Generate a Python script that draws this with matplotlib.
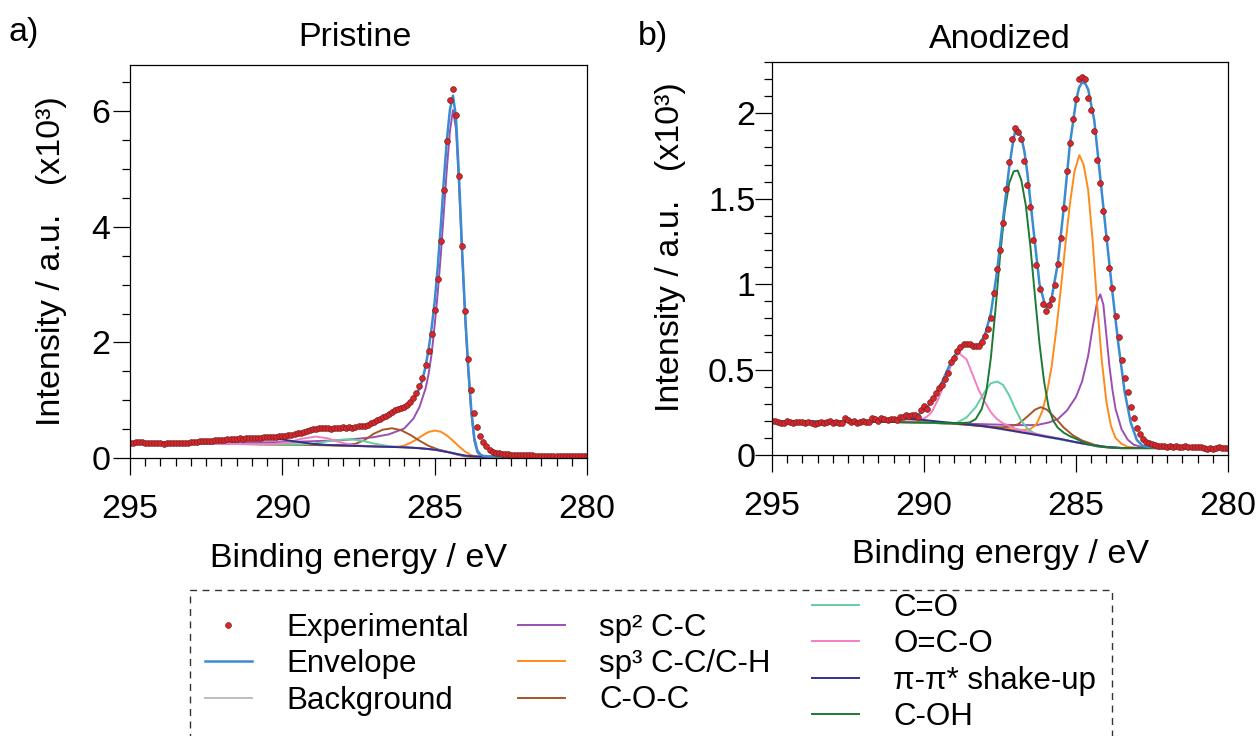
import matplotlib
matplotlib.use("Agg")
import numpy as np
import matplotlib.pyplot as plt
from matplotlib.ticker import MultipleLocator, FixedLocator
from matplotlib.patches import Rectangle

plt.rcParams['font.family'] = ['Liberation Sans', 'DejaVu Sans']

# energy grid of the experimental points (0.1 eV step, 295 -> 280 eV)
e_grid = np.linspace(295.0, 280.0, 151)

# ---------------- Pristine ----------------
p_exp = [0.265, 0.262, 0.270, 0.278, 0.272, 0.262, 0.258, 0.255, 0.252, 0.256,
         0.252, 0.250, 0.255, 0.266, 0.262, 0.258, 0.256, 0.257, 0.262, 0.268,
         0.272, 0.275, 0.284, 0.291, 0.287, 0.298, 0.302, 0.296, 0.306, 0.312,
         0.308, 0.318, 0.322, 0.330, 0.328, 0.334, 0.338, 0.336, 0.340, 0.352,
         0.347, 0.350, 0.348, 0.352, 0.357, 0.360, 0.362, 0.368, 0.372, 0.378,
         0.383, 0.388, 0.395, 0.402, 0.412, 0.425, 0.440, 0.455, 0.468, 0.487,
         0.505, 0.498, 0.512, 0.518, 0.512, 0.515, 0.508, 0.520, 0.518, 0.522,
         0.528, 0.524, 0.532, 0.520, 0.542, 0.548, 0.550, 0.562, 0.578, 0.602,
         0.625, 0.650, 0.678, 0.705, 0.735, 0.765, 0.795, 0.822, 0.840, 0.865,
         0.882, 0.925, 0.965, 1.040, 1.130, 1.240, 1.380, 1.610, 1.850, 2.150,
         2.560, 3.090, 3.760, 4.640, 5.480, 6.200, 6.390, 5.930, 4.880, 3.660,
         2.540, 1.720, 1.170, 0.770, 0.540, 0.380, 0.280, 0.200, 0.140, 0.100,
         0.090, 0.080, 0.072, 0.066, 0.062, 0.058, 0.055, 0.052, 0.050, 0.048,
         0.047, 0.045, 0.044, 0.043, 0.042, 0.041, 0.040, 0.039, 0.038, 0.037,
         0.036, 0.035, 0.034, 0.034, 0.033, 0.033, 0.032, 0.032, 0.031, 0.031,
         0.030]

p_bg_e = [295, 293, 291, 289, 288, 287, 286, 285.5, 285, 284.7, 284.5, 284.3, 284.1, 283.9, 283.5, 280]
p_bg_y = [0.26, 0.25, 0.24, 0.225, 0.215, 0.20, 0.185, 0.17, 0.145, 0.12, 0.095, 0.065, 0.04, 0.028, 0.022, 0.02]

p_env_e = [295, 294, 293, 292, 291, 290, 289.5, 289, 288.5, 288, 287.5, 287, 286.75, 286.5, 286.25,
           286, 285.75, 285.5, 285.4, 285.3, 285.2, 285.1, 285.0, 284.9, 284.8, 284.7, 284.6, 284.5,
           284.4, 284.3, 284.2, 284.1, 284.0, 283.9, 283.8, 283.7, 283.6, 283.5, 283.4, 283.2, 283, 280]
p_env_y = [0.26, 0.26, 0.27, 0.30, 0.335, 0.375, 0.41, 0.47, 0.50, 0.52, 0.545, 0.60, 0.67, 0.75, 0.82,
           0.89, 0.97, 1.2, 1.36, 1.58, 1.88, 2.25, 2.7, 3.3, 4.0, 4.8, 5.5, 6.02,
           6.27, 5.9, 4.85, 3.62, 2.5, 1.6, 0.85, 0.35, 0.13, 0.06, 0.035, 0.025, 0.02, 0.02]

p_sp2_e = [295, 293, 291, 290, 289, 288, 287, 286.5, 286, 285.7, 285.5, 285.3, 285.2, 285.1, 285.0, 284.9,
           284.8, 284.7, 284.6, 284.5, 284.4, 284.3, 284.2, 284.1, 284.0, 283.9, 283.8, 283.7, 283.6,
           283.5, 283.3, 280]
p_sp2_y = [0.26, 0.262, 0.268, 0.275, 0.29, 0.31, 0.36, 0.41, 0.51, 0.68, 0.88, 1.2, 1.45, 1.8, 2.3, 2.85,
           3.5, 4.25, 5.0, 5.65, 6.02, 5.7, 4.7, 3.5, 2.4, 1.5, 0.78, 0.3, 0.1,
           0.04, 0.02, 0.02]

p_sp3_e = [295, 293, 291, 289, 288, 287, 286.5, 286.2, 286.0, 285.8, 285.6, 285.4, 285.2, 285.0, 284.8,
           284.6, 284.4, 284.2, 284.0, 283.8, 283.6, 283.4, 280]
p_sp3_y = [0.26, 0.25, 0.24, 0.225, 0.215, 0.2, 0.19, 0.195, 0.215, 0.26, 0.32, 0.39, 0.45, 0.475, 0.455,
           0.39, 0.30, 0.20, 0.11, 0.05, 0.025, 0.02, 0.02]

p_coc_e = [295, 293, 291, 289, 288, 287.6, 287.3, 287.0, 286.7, 286.4, 286.1, 285.8, 285.5, 285.2, 284.9,
           284.6, 284.3, 284.0, 283.7, 280]
p_coc_y = [0.26, 0.25, 0.24, 0.225, 0.22, 0.245, 0.31, 0.42, 0.49, 0.515, 0.48, 0.40, 0.30, 0.21, 0.15,
           0.11, 0.065, 0.03, 0.02, 0.02]

p_co_e = [295, 293, 291, 289.5, 289, 288.5, 288, 287.7, 287.3, 287, 286.5, 286, 285.5, 285, 284.5, 284, 283.5, 280]
p_co_y = [0.26, 0.25, 0.24, 0.232, 0.245, 0.29, 0.32, 0.32, 0.29, 0.25, 0.205, 0.185, 0.17, 0.145, 0.095, 0.04, 0.022, 0.02]

p_oco_e = [295, 293, 291, 290.3, 289.8, 289.4, 288.9, 288.5, 288.1, 287.7, 287.2, 286.5, 286, 285.5, 285,
           284.5, 284, 283.5, 280]
p_oco_y = [0.26, 0.25, 0.24, 0.24, 0.27, 0.33, 0.37, 0.34, 0.27, 0.225, 0.205, 0.195, 0.185, 0.17, 0.145,
           0.095, 0.04, 0.022, 0.02]

p_pi_e = [295, 294, 293, 292, 291, 290.5, 290, 289.5, 289, 288.5, 288, 287, 286, 285.5, 285, 284.5, 284, 283.5, 280]
p_pi_y = [0.26, 0.265, 0.28, 0.31, 0.335, 0.335, 0.32, 0.28, 0.245, 0.225, 0.215, 0.20, 0.185, 0.17, 0.145,
          0.095, 0.04, 0.022, 0.02]

# ---------------- Anodized ----------------
a_exp = [0.200, 0.198, 0.195, 0.187, 0.186, 0.197, 0.193, 0.190, 0.196, 0.191,
         0.194, 0.188, 0.195, 0.190, 0.184, 0.189, 0.195, 0.186, 0.192, 0.197,
         0.190, 0.193, 0.186, 0.190, 0.214, 0.205, 0.192, 0.198, 0.188, 0.194,
         0.199, 0.192, 0.196, 0.215, 0.212, 0.200, 0.218, 0.210, 0.205, 0.212,
         0.213, 0.205, 0.220, 0.224, 0.232, 0.230, 0.236, 0.232, 0.225, 0.262,
         0.287, 0.270, 0.310, 0.335, 0.360, 0.390, 0.410, 0.445, 0.480, 0.545,
         0.565, 0.610, 0.632, 0.652, 0.651, 0.650, 0.640, 0.635, 0.640, 0.660,
         0.695, 0.735, 0.800, 0.950, 1.090, 1.200, 1.360, 1.556, 1.716, 1.850,
         1.916, 1.890, 1.850, 1.720, 1.580, 1.450, 1.260, 1.110, 0.970, 0.886,
         0.845, 0.875, 0.914, 0.996, 1.120, 1.270, 1.445, 1.664, 1.826, 1.968,
         2.084, 2.200, 2.210, 2.200, 2.090, 2.020, 1.894, 1.728, 1.592, 1.430,
         1.270, 1.094, 0.977, 0.814, 0.693, 0.557, 0.449, 0.371, 0.283, 0.215,
         0.156, 0.120, 0.095, 0.078, 0.068, 0.062, 0.058, 0.055, 0.052, 0.050,
         0.049, 0.052, 0.047, 0.050, 0.046, 0.049, 0.051, 0.047, 0.045, 0.048,
         0.044, 0.046, 0.042, 0.038, 0.043, 0.036, 0.041, 0.045, 0.039, 0.042,
         0.040]

a_bg_e = [295, 291, 290, 289, 288.5, 288, 287.5, 287, 286.5, 286, 285.5, 285, 284.5, 284, 283.5, 283, 280]
a_bg_y = [0.195, 0.193, 0.19, 0.183, 0.176, 0.166, 0.152, 0.137, 0.122, 0.107, 0.092, 0.074, 0.058, 0.047, 0.041, 0.04, 0.04]

a_env_e = [295, 293, 292, 291.5, 291, 290.5, 290.2, 290, 289.8, 289.6, 289.4, 289.2, 289.0, 288.8, 288.6,
           288.4, 288.2, 288.0, 287.8, 287.6, 287.4, 287.2, 287.1, 287.0, 286.9, 286.8, 286.7, 286.6,
           286.4, 286.2, 286.0, 285.9, 285.8, 285.6, 285.4, 285.2, 285.0, 284.9, 284.8, 284.7, 284.6,
           284.4, 284.2, 284.0, 283.8, 283.6, 283.4, 283.2, 283.0, 282.8, 282.5, 282, 280]
a_env_y = [0.195, 0.196, 0.198, 0.203, 0.21, 0.218, 0.235, 0.26, 0.30, 0.36, 0.43, 0.51, 0.58, 0.63, 0.645,
           0.64, 0.645, 0.70, 0.83, 1.07, 1.38, 1.68, 1.80, 1.90, 1.905, 1.86, 1.78, 1.65,
           1.32, 1.0, 0.865, 0.87, 0.92, 1.12, 1.45, 1.82, 2.07, 2.15, 2.18, 2.175, 2.14,
           1.96, 1.62, 1.28, 0.95, 0.64, 0.37, 0.19, 0.088, 0.052, 0.045, 0.042, 0.04]

a_sp2_e = [295, 291, 290, 289, 288, 287, 286.3, 285.9, 285.6, 285.3, 285.0, 284.8, 284.6, 284.45, 284.3,
           284.2, 284.1, 284.0, 283.9, 283.8, 283.7, 283.5, 283.3, 283.1, 282.8, 280]
a_sp2_y = [0.195, 0.193, 0.19, 0.185, 0.18, 0.175, 0.175, 0.19, 0.21, 0.26, 0.34, 0.43, 0.58, 0.75, 0.9,
           0.94, 0.88, 0.7, 0.52, 0.38, 0.27, 0.15, 0.09, 0.06, 0.045, 0.04]

a_sp3_e = [295, 291, 290, 289, 288, 287.5, 287.0, 286.75, 286.5, 286.3, 286.1, 285.95, 285.8, 285.65,
           285.5, 285.35, 285.2, 285.05, 284.89, 284.75, 284.6, 284.45, 284.3, 284.15, 284.0, 283.85,
           283.7, 283.5, 283.3, 283.0, 280]
a_sp3_y = [0.195, 0.193, 0.19, 0.183, 0.168, 0.158, 0.148, 0.145, 0.152, 0.18, 0.26, 0.37, 0.52, 0.73,
           0.97, 1.23, 1.47, 1.66, 1.755, 1.70, 1.55, 1.25, 0.87, 0.55, 0.31, 0.17,
           0.10, 0.065, 0.048, 0.042, 0.04]

a_coc_e = [295, 291, 290, 289, 288, 287.5, 287.2, 286.9, 286.6, 286.35, 286.16, 285.95, 285.7, 285.4,
           285.1, 284.8, 284.4, 284.0, 283.5, 280]
a_coc_y = [0.195, 0.193, 0.19, 0.183, 0.168, 0.162, 0.165, 0.18, 0.225, 0.265, 0.28, 0.265, 0.22, 0.16,
           0.115, 0.085, 0.06, 0.045, 0.04, 0.04]

a_co_e = [295, 291, 290, 289.2, 288.9, 288.6, 288.3, 288.0, 287.8, 287.59, 287.4, 287.2, 287.0, 286.8,
          286.6, 286.4, 286.1, 285.8, 285.5, 285.0, 284.5, 284.0, 283.5, 280]
a_co_y = [0.195, 0.193, 0.19, 0.183, 0.19, 0.22, 0.28, 0.37, 0.42, 0.43, 0.41, 0.35, 0.27, 0.2,
          0.155, 0.13, 0.11, 0.1, 0.09, 0.074, 0.058, 0.047, 0.041, 0.04]

a_oco_e = [295, 291, 290.4, 290.1, 289.9, 289.75, 289.55, 289.3, 289.1, 288.86, 288.6, 288.4, 288.2,
           288.0, 287.8, 287.6, 287.4, 287.0, 286.5, 286, 285.5, 285, 284.5, 284, 283.5, 280]
a_oco_y = [0.195, 0.195, 0.198, 0.205, 0.225, 0.25, 0.32, 0.43, 0.53, 0.597, 0.56, 0.47, 0.38,
           0.31, 0.25, 0.21, 0.185, 0.155, 0.132, 0.112, 0.095, 0.074, 0.058, 0.047, 0.041, 0.04]

a_pi_e = [295, 293, 292, 291.5, 291, 290.5, 290, 289.5, 289, 288.5, 288, 287.5, 287, 286.5, 286, 285.5,
          285, 284.5, 284, 283.5, 280]
a_pi_y = [0.195, 0.196, 0.198, 0.203, 0.208, 0.212, 0.205, 0.195, 0.187, 0.178, 0.168, 0.154, 0.139,
          0.124, 0.108, 0.093, 0.075, 0.059, 0.047, 0.041, 0.04]

a_coh_e = [295, 291, 290, 289, 288.5, 288.3, 288.1, 287.95, 287.8, 287.65, 287.5, 287.35, 287.2, 287.05,
           286.92, 286.8, 286.65, 286.5, 286.35, 286.2, 286.05, 285.9, 285.75, 285.6, 285.4, 285.2,
           285.0, 284.7, 284.3, 284.0, 283.5, 280]
a_coh_y = [0.195, 0.193, 0.19, 0.185, 0.19, 0.21, 0.27, 0.37, 0.57, 0.85, 1.16, 1.42, 1.59, 1.66,
           1.665, 1.61, 1.46, 1.22, 0.93, 0.65, 0.43, 0.28, 0.2, 0.16, 0.13, 0.11,
           0.095, 0.07, 0.05, 0.045, 0.04, 0.04]

# colours
c_exp, c_exp_edge = '#d8262b', '#6e2020'
c_env = '#3a8bd0'
c_bg = '#bdbdbd'
c_sp2 = '#9b4fb2'
c_sp3 = '#ff8a1c'
c_coc = '#a5562a'
c_co = '#62cfa2'
c_oco = '#f27fc2'
c_pi = '#2f318c'
c_coh = '#1d7a34'

FS = 24.5
W, H = 1260, 736

fig = plt.figure(figsize=(12.6, 7.36), dpi=100)
ax1 = fig.add_axes([130 / W, 1 - 458 / H, 457 / W, 393 / H])
ax2 = fig.add_axes([772 / W, 1 - 455 / H, 456 / W, 393 / H])


def draw(ax, comps, env_e, env_y, exp_y):
    hs = {}
    for name, e, y, c in comps:
        hs[name], = ax.plot(e, y, color=c, lw=1.4)
    hs['Envelope'], = ax.plot(env_e, env_y, color=c_env, lw=1.8)
    hs['Experimental'], = ax.plot(e_grid, exp_y, ls='none', marker='o', ms=4.2,
                                  mfc=c_exp, mec=c_exp_edge, mew=0.45)
    return hs


draw(ax1, [('Background', p_bg_e, p_bg_y, c_bg),
           ('sp2', p_sp2_e, p_sp2_y, c_sp2),
           ('sp3', p_sp3_e, p_sp3_y, c_sp3),
           ('coc', p_coc_e, p_coc_y, c_coc),
           ('co', p_co_e, p_co_y, c_co),
           ('oco', p_oco_e, p_oco_y, c_oco),
           ('pi', p_pi_e, p_pi_y, c_pi)],
     p_env_e, p_env_y, p_exp)

h = draw(ax2, [('Background', a_bg_e, a_bg_y, c_bg),
               ('sp2', a_sp2_e, a_sp2_y, c_sp2),
               ('sp3', a_sp3_e, a_sp3_y, c_sp3),
               ('coc', a_coc_e, a_coc_y, c_coc),
               ('co', a_co_e, a_co_y, c_co),
               ('oco', a_oco_e, a_oco_y, c_oco),
               ('pi', a_pi_e, a_pi_y, c_pi),
               ('coh', a_coh_e, a_coh_y, c_coh)],
         a_env_e, a_env_y, a_exp)

for ax in (ax1, ax2):
    ax.set_xlim(295, 280)
    ax.xaxis.set_major_locator(FixedLocator([295, 290, 285, 280]))
    ax.xaxis.set_minor_locator(MultipleLocator(0.5))
    ax.tick_params(which='major', direction='out', length=12, width=0.9,
                   labelsize=FS, top=False, right=False)
    ax.tick_params(which='minor', direction='out', length=6, width=0.9,
                   top=False, right=False)
    ax.tick_params(axis='x', which='major', pad=14)
    for s in ax.spines.values():
        s.set_linewidth(0.9)
    ax.set_xlabel('Binding energy / eV', fontsize=FS, va='center')
    ax.set_ylabel('Intensity / a.u.   (x10³)', fontsize=FS, va='center')

ax1.set_ylim(0, 6.8)
ax1.yaxis.set_major_locator(MultipleLocator(2))
ax1.yaxis.set_minor_locator(MultipleLocator(0.5))
ax1.tick_params(axis='y', which='major', pad=2)
ax1.xaxis.set_label_coords(0.5, (458 - 558) / 393)
ax1.yaxis.set_label_coords((52 - 130) / 457, 0.5)

ax2.set_ylim(0, 2.3)
ax2.yaxis.set_major_locator(FixedLocator([0, 0.5, 1, 1.5, 2]))
ax2.set_yticklabels(['0', '0.5', '1', '1.5', '2'])
ax2.yaxis.set_minor_locator(MultipleLocator(0.1))
ax2.tick_params(axis='y', which='major', pad=0)
ax2.xaxis.set_label_coords(0.5, (455 - 555) / 393)
ax2.yaxis.set_label_coords((670 - 772) / 456, 0.53)

fig.text(8 / W, 1 - 32 / H, 'a)', fontsize=FS, va='center')
fig.text(638 / W, 1 - 37 / H, 'b)', fontsize=FS, va='center')
fig.text(355 / W, 1 - 38 / H, 'Pristine', fontsize=FS, ha='center', va='center')
fig.text(1000 / W, 1 - 39 / H, 'Anodized', fontsize=FS, ha='center', va='center')

# legend in three columns inside a dashed frame
LFS = 22.5
kw = dict(loc='upper left', frameon=False, fontsize=LFS, handlelength=1.5,
          handletextpad=1.1, labelspacing=0.2, borderpad=0, borderaxespad=0,
          numpoints=1)
fig.legend([h['Experimental'], h['Envelope'], h['Background']],
           ['Experimental', 'Envelope', 'Background'],
           bbox_to_anchor=(205 / W, 1 - 613 / H), **kw)
fig.legend([h['sp2'], h['sp3'], h['coc']],
           ['sp² C-C', 'sp³ C-C/C-H', 'C-O-C'],
           bbox_to_anchor=(518 / W, 1 - 613 / H), **kw)
fig.legend([h['co'], h['oco'], h['pi'], h['coh']],
           ['C=O', 'O=C-O', 'π-π* shake-up', 'C-OH'],
           bbox_to_anchor=(812 / W, 1 - 593 / H), **kw)

fig.add_artist(Rectangle((190 / W, -0.1), (1112 - 190) / W, 0.1 + (736 - 590) / H,
                         transform=fig.transFigure, fill=False, ec='#333333',
                         lw=1.0, ls=(0, (5, 4)), clip_on=False))

fig.savefig('out.png', dpi=100)
